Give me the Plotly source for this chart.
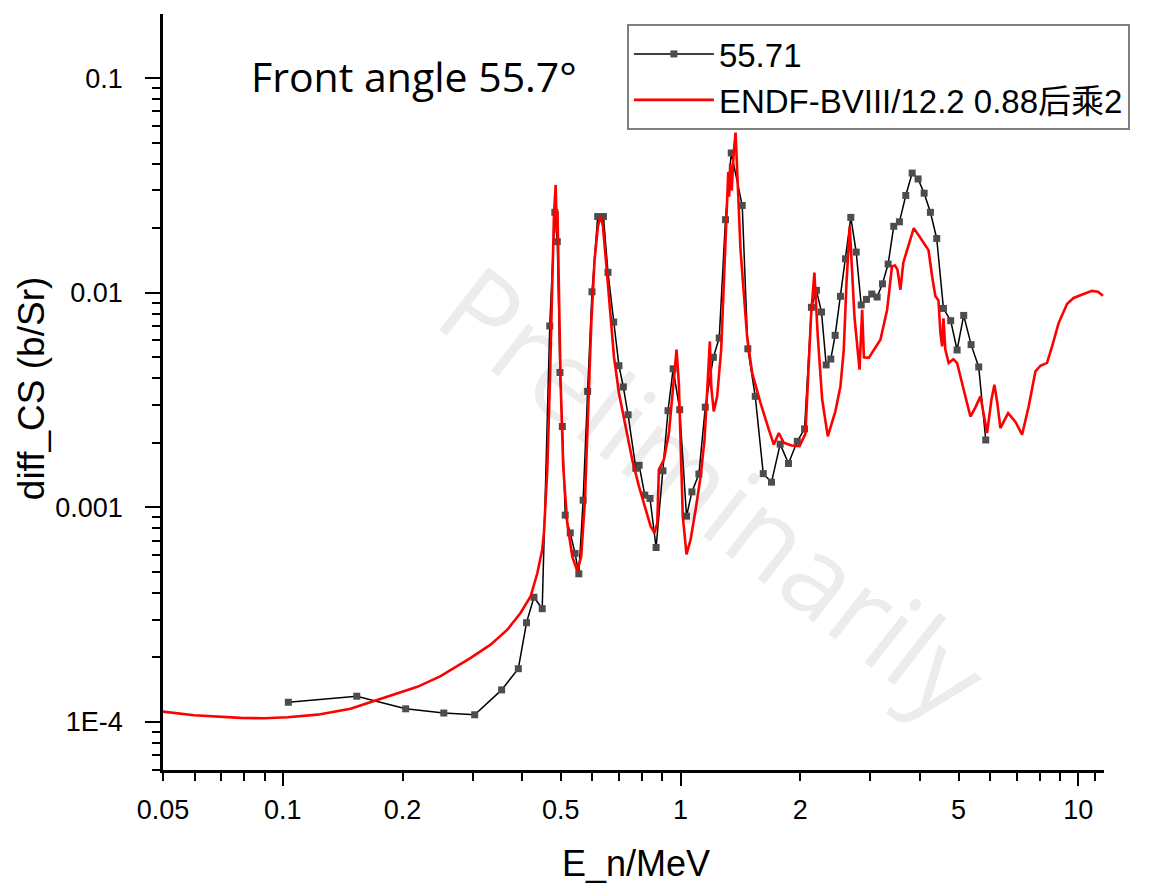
import plotly.graph_objects as go
import math

# ---------------- data ----------------
exp_energy = [0.1033, 0.1535, 0.2037, 0.254, 0.3037, 0.355, 0.391, 0.41, 0.428, 0.449,
              0.469, 0.483, 0.490, 0.4975, 0.5045, 0.513, 0.528, 0.543, 0.555, 0.569,
              0.584, 0.599, 0.619, 0.640, 0.657, 0.679, 0.700, 0.718, 0.738, 0.772,
              0.787, 0.813, 0.838, 0.868, 0.903, 0.930, 0.958, 0.995, 1.035, 1.068,
              1.112, 1.154, 1.209, 1.251, 1.297, 1.341, 1.429, 1.476, 1.541, 1.614,
              1.693, 1.78, 1.868, 1.965, 2.05, 2.133, 2.196, 2.261, 2.323, 2.386,
              2.447, 2.523, 2.598, 2.679, 2.764, 2.845, 2.933, 3.025, 3.12, 3.218,
              3.325, 3.435, 3.55, 3.683, 3.821, 3.955, 4.096, 4.247, 4.405, 4.58,
              4.776, 4.956, 5.15, 5.375, 5.617, 5.85]
exp_cs = [1.235e-4, 1.318e-4, 1.151e-4, 1.10e-4, 1.08e-4, 1.41e-4, 1.77e-4, 2.90e-4, 3.81e-4, 3.37e-4,
          7.0e-3, 2.37e-2, 1.73e-2, 4.25e-3, 2.38e-3, 9.2e-4, 7.6e-4, 6.1e-4, 4.9e-4, 1.08e-3,
          3.47e-3, 1.01e-2, 2.265e-2, 2.265e-2, 1.244e-2, 7.3e-3, 4.57e-3, 3.64e-3, 2.70e-3, 1.52e-3,
          1.57e-3, 1.14e-3, 1.10e-3, 6.5e-4, 1.48e-3, 2.82e-3, 4.42e-3, 2.85e-3, 9.1e-4, 1.18e-3,
          1.43e-3, 2.93e-3, 5.0e-3, 6.15e-3, 2.19e-2, 4.48e-2, 2.55e-2, 5.48e-3, 3.29e-3, 1.435e-3,
          1.31e-3, 1.97e-3, 1.60e-3, 2.03e-3, 2.32e-3, 8.55e-3, 1.026e-2, 8.13e-3, 4.61e-3, 4.91e-3,
          6.33e-3, 9.62e-3, 1.439e-2, 2.244e-2, 1.547e-2, 8.77e-3, 9.31e-3, 9.86e-3, 9.55e-3, 1.10e-2,
          1.36e-2, 2.04e-2, 2.14e-2, 2.84e-2, 3.61e-2, 3.39e-2, 2.91e-2, 2.37e-2, 1.79e-2, 8.45e-3,
          7.41e-3, 5.41e-3, 7.84e-3, 5.73e-3, 4.51e-3, 2.06e-3]

endf_energy = [0.05, 0.0598, 0.0784, 0.0897, 0.1028, 0.1223, 0.148, 0.1797, 0.218, 0.2494,
               0.2968, 0.333, 0.367, 0.396, 0.42, 0.4365, 0.449, 0.4535, 0.4624, 0.4694,
               0.476, 0.4805, 0.4853, 0.4885, 0.4905, 0.4945, 0.4995, 0.507, 0.519, 0.5343,
               0.55, 0.5628, 0.575, 0.585, 0.5966, 0.608, 0.620, 0.6295, 0.638, 0.649,
               0.6644, 0.68, 0.70, 0.727, 0.756, 0.786, 0.817, 0.841, 0.86, 0.874,
               0.882, 0.908, 0.935, 0.958, 0.977, 0.99, 1.0, 1.013, 1.035, 1.06,
               1.091, 1.123, 1.149, 1.171, 1.185, 1.195, 1.212, 1.236, 1.265, 1.285,
               1.305, 1.318, 1.325, 1.333, 1.345, 1.36, 1.375, 1.39, 1.415, 1.442,
               1.47, 1.514, 1.589, 1.667, 1.716, 1.766, 1.818, 1.9, 1.99, 2.06,
               2.10, 2.13, 2.17, 2.19, 2.213, 2.27, 2.345, 2.45, 2.523, 2.572,
               2.613, 2.663, 2.70, 2.736, 2.818, 2.861, 2.89, 2.972, 3.18, 3.306,
               3.40, 3.46, 3.51, 3.57, 3.63, 3.712, 3.857, 4.009, 4.127, 4.2,
               4.29, 4.372, 4.45, 4.50, 4.546, 4.58, 4.63, 4.72, 4.85, 4.956,
               5.15, 5.354, 5.5, 5.674, 5.896, 6.05, 6.151, 6.25, 6.368, 6.66,
               6.95, 7.22, 7.50, 7.80, 8.03, 8.34, 8.59, 8.92, 9.37, 9.73,
               10.31, 10.82, 11.2, 11.53]
endf_cs = [1.117e-4, 1.074e-4, 1.044e-4, 1.04e-4, 1.052e-4, 1.081e-4, 1.153e-4, 1.294e-4, 1.457e-4, 1.633e-4,
           1.99e-4, 2.29e-4, 2.69e-4, 3.22e-4, 3.85e-4, 4.94e-4, 6.35e-4, 7.6e-4, 1.5e-3, 3.8e-3,
           1.11e-2, 2.27e-2, 3.18e-2, 1.90e-2, 2.40e-2, 9.27e-3, 3.8e-3, 1.55e-3, 8.45e-4, 5.91e-4,
           5.04e-4, 5.91e-4, 1.086e-3, 2.65e-3, 7.22e-3, 1.425e-2, 2.04e-2, 2.29e-2, 2.04e-2, 1.425e-2,
           8.33e-3, 5.05e-3, 3.41e-3, 2.38e-3, 1.667e-3, 1.253e-3, 9.75e-4, 8.16e-4, 7.6e-4, 8.45e-4,
           1.5e-3, 1.667e-3, 2.22e-3, 3.8e-3, 5.43e-3, 3.8e-3, 1.86e-3, 9.08e-4, 6.03e-4, 7.08e-4,
           9.75e-4, 1.39e-3, 2.07e-3, 3.8e-3, 5.93e-3, 3.6e-3, 2.8e-3, 3.29e-3, 5.43e-3, 1.11e-2,
           2.27e-2, 3.65e-2, 2.8e-2, 4.0e-2, 3.0e-2, 4.5e-2, 5.58e-2, 3.5e-2, 1.58e-2, 9.97e-3,
           6.25e-3, 4.22e-3, 3.06e-3, 2.3e-3, 1.96e-3, 2.22e-3, 2.0e-3, 1.94e-3, 1.93e-3, 2.2e-3,
           4.7e-3, 8.0e-3, 1.24e-2, 8.5e-3, 6.25e-3, 3.18e-3, 2.14e-3, 2.8e-3, 3.66e-3, 5.43e-3,
           1.11e-2, 2.04e-2, 1.25e-2, 7.76e-3, 4.38e-3, 8.33e-3, 5.0e-3, 4.97e-3, 6.04e-3, 8.33e-3,
           1.327e-2, 1.34e-2, 1.28e-2, 1.033e-2, 1.38e-2, 1.585e-2, 2.0e-2, 1.8e-2, 1.645e-2, 1.58e-2,
           1.19e-2, 9.62e-3, 9.2e-3, 6.5e-3, 5.62e-3, 7.6e-3, 5.43e-3, 4.71e-3, 4.9e-3, 4.71e-3,
           3.53e-3, 2.65e-3, 2.9e-3, 3.29e-3, 2.22e-3, 3.2e-3, 3.73e-3, 3.1e-3, 2.34e-3, 2.75e-3,
           2.5e-3, 2.18e-3, 2.95e-3, 4.3e-3, 4.57e-3, 4.71e-3, 5.62e-3, 7.22e-3, 8.89e-3, 9.45e-3,
           9.86e-3, 1.02e-2, 1.01e-2, 9.68e-3]

x_label_vals = [0.05, 0.1, 0.2, 0.5, 1, 2, 5, 10]
x_label_text = ["0.05", "0.1", "0.2", "0.5", "1", "2", "5", "10"]
x_decades = [0.1, 1, 10]
x_minor = [0.06, 0.07, 0.08, 0.09, 0.3, 0.4, 0.6, 0.7, 0.8, 0.9, 3, 4, 6, 7, 8, 9, 11]
y_label_vals = [1e-4, 1e-3, 1e-2, 1e-1]
y_label_text = ["1E-4", "0.001", "0.01", "0.1"]
y_minor = [m * d for d in [1e-5, 1e-4, 1e-3, 1e-2, 1e-1] for m in range(2, 10)]

X_RANGE = [0.05, 11.6]
Y_RANGE = [5.97e-5, 0.199]

xr = [math.log10(v) for v in X_RANGE]
yr = [math.log10(v) for v in Y_RANGE]

fig = go.Figure()
fig.add_trace(go.Scatter(
    x=exp_energy, y=exp_cs, name="55.71", mode="lines+markers",
    line=dict(color="black", width=1.5),
    marker=dict(symbol="square", size=7, color="#4d4d4d"),
))
fig.add_trace(go.Scatter(
    x=endf_energy, y=endf_cs, name="ENDF-BVIII/12.2 0.88后乘2", mode="lines",
    line=dict(color="#ff0000", width=2.6),
))
# carrier for long decade ticks on overlay axis
fig.add_trace(go.Scatter(x=[None], y=[None], xaxis="x2", yaxis="y",
                         showlegend=False, hoverinfo="skip"))

tickfont = dict(family="Liberation Sans, Arial", size=27, color="black")

# page body has an 8px margin; size the figure so the plot lands where the reference has it
fig.update_layout(
    width=1150, height=880,
    margin=dict(l=155, r=54, t=6, b=118),
    paper_bgcolor="white", plot_bgcolor="white",
    showlegend=True,
    legend=dict(
        x=0.493, y=0.9868, xanchor="left", yanchor="top",
        bordercolor="#7f7f7f", borderwidth=2, bgcolor="white",
        font=dict(family="Liberation Sans, Arial, Noto Sans CJK SC", size=33, color="black"),
        itemwidth=80, tracegroupgap=0,
    ),
    xaxis=dict(
        type="log", range=xr, showgrid=False, zeroline=False,
        showline=True, linecolor="black", linewidth=2.5,
        tickmode="array", tickvals=x_label_vals, ticktext=x_label_text,
        ticks="outside", ticklen=8, tickwidth=2, tickcolor="black",
        tickfont=tickfont, ticklabelstandoff=6,
        minor=dict(tickmode="array", tickvals=x_minor, ticks="outside",
                   ticklen=8, tickwidth=2, tickcolor="black", showgrid=False),
    ),
    xaxis2=dict(
        type="log", range=xr, overlaying="x", anchor="y", side="bottom",
        showgrid=False, zeroline=False, showline=False,
        tickmode="array", tickvals=x_decades, ticks="outside", ticklen=15,
        tickwidth=2, tickcolor="black", showticklabels=False,
    ),
    yaxis=dict(
        type="log", range=yr, showgrid=False, zeroline=False,
        showline=True, linecolor="black", linewidth=2.5,
        tickmode="array", tickvals=y_label_vals, ticktext=y_label_text,
        ticks="outside", ticklen=15, tickwidth=2, tickcolor="black",
        tickfont=tickfont, ticklabelstandoff=17,
        minor=dict(tickmode="array", tickvals=y_minor, ticks="outside",
                   ticklen=8, tickwidth=2, tickcolor="black", showgrid=False),
    ),
    annotations=[
        dict(text="Preliminarily", xref="paper", yref="paper", x=0.587, y=0.37,
             showarrow=False, textangle=38,
             font=dict(family="Open Sans, Lato", size=112, color="rgba(0,0,0,0.075)")),
        dict(text="Front angle 55.7°", xref="paper", yref="paper", x=0.2667, y=0.918,
             showarrow=False, xanchor="center", yanchor="middle",
             font=dict(family="Open Sans", size=41, color="black")),
        dict(text="diff_CS (b/Sr)", xref="paper", yref="paper", x=-0.139, y=0.504,
             showarrow=False, textangle=-90, xanchor="center", yanchor="middle",
             font=dict(family="Liberation Sans, Arial", size=37, color="black")),
        dict(text="E_n/MeV", xref="paper", yref="paper", x=0.503, y=-0.1243,
             showarrow=False, xanchor="center", yanchor="middle",
             font=dict(family="Liberation Sans, Arial", size=36, color="black")),
    ],
)

fig.write_html("out.html")
